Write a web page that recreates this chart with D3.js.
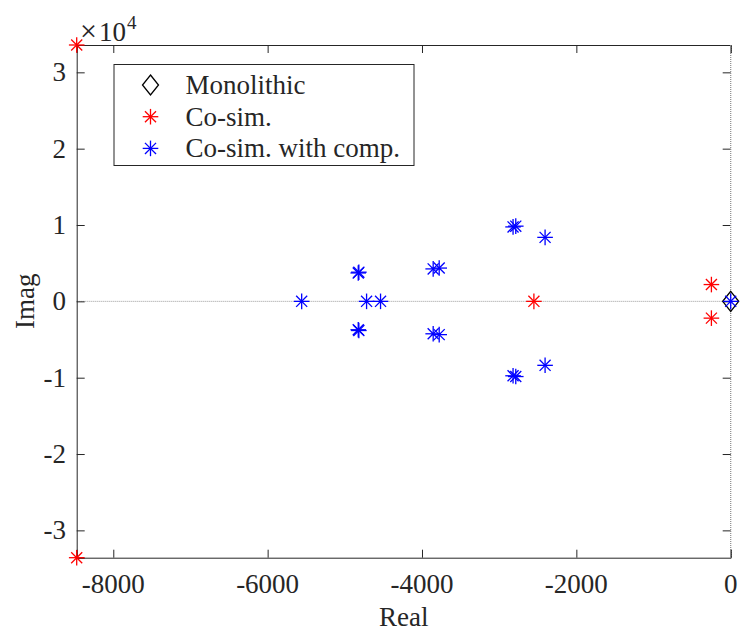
<!DOCTYPE html>
<html>
<head>
<meta charset="utf-8">
<script src="https://cdn.jsdelivr.net/npm/d3@7"></script>
<style>
  body { margin: 0; background: #fff; }
  svg text { font-family: "Liberation Serif", "Times New Roman", serif; fill: #262626; }
</style>
</head>
<body>
<svg id="chart"></svg>
<script>
    // pole locations (real, imag)
    const monolithic = [[0, 0]];
    const cosim = [[-8474, 33580], [-8474, -33580], [-2550, 0], [-250, 2200], [-250, -2200]];
    const cosimComp = [
        [-5559, 0], [-4718, 0], [-4537, 0], [0, 0],
        [-4826, 3720], [-4826, -3720], [-4818, 3820], [-4818, -3820],
        [-3855, 4250], [-3855, -4250], [-3777, 4360], [-3777, -4360],
        [-2820, 9750], [-2820, -9750], [-2785, 9850], [-2785, -9850],
        [-2405, 8380], [-2405, -8380]
    ];
    const xTicks = [-8000, -6000, -4000, -2000, 0];
    const yTicks = [-30000, -20000, -10000, 0, 10000, 20000, 30000];
    const legendNames = ["Monolithic", "Co-sim.", "Co-sim. with comp."];

    const width = 740, height = 631;
    const pLeft = 76.7, pRight = 730.7, pTop = 45, pBottom = 557.7;
    const axisColor = "#262626";

    const svg = d3.select("#chart").attr("width", width).attr("height", height);

    const x = d3.scaleLinear().domain([-8474, 0]).range([pLeft, pRight]);
    const y = d3.scaleLinear().domain([-33580, 33580]).range([pBottom, pTop]);

    // zero line (dotted grey)
    svg.append("line")
        .attr("x1", pLeft).attr("x2", pRight)
        .attr("y1", y(0)).attr("y2", y(0))
        .attr("stroke", "#9a9a9a").attr("stroke-width", 1)
        .attr("stroke-dasharray", "1,1");

    // axes box
    const tickLen = 8;
    const xAxisB = d3.axisBottom(x).tickValues(xTicks).tickSize(-tickLen).tickFormat("");
    const xAxisT = d3.axisTop(x).tickValues(xTicks).tickSize(-tickLen).tickFormat("");
    const yAxisL = d3.axisLeft(y).tickValues(yTicks).tickSize(-tickLen).tickFormat("");
    const yAxisR = d3.axisRight(y).tickValues(yTicks).tickSize(-tickLen).tickFormat("");

    function styleAxis(g) {
        g.selectAll("path").attr("stroke", axisColor).attr("stroke-width", 1);
        g.selectAll("line").attr("stroke", axisColor).attr("stroke-width", 1);
    }

    svg.append("g").attr("transform", `translate(0,${pBottom})`).call(xAxisB).call(styleAxis);
    svg.append("g").attr("transform", `translate(0,${pTop})`).call(xAxisT).call(styleAxis);
    svg.append("g").attr("transform", `translate(${pLeft},0)`).call(yAxisL).call(styleAxis);
    const rAxis = svg.append("g").attr("transform", `translate(${pRight},0)`).call(yAxisR).call(styleAxis);
    rAxis.select("path").attr("stroke-opacity", 0);

    // vertical zero line on the right edge
    svg.append("line")
        .attr("x1", x(0)).attr("x2", x(0))
        .attr("y1", pTop).attr("y2", pBottom)
        .attr("stroke", "#8a8a8a").attr("stroke-width", 1.2)
        .attr("stroke-dasharray", "1,1");

    // tick labels
    svg.selectAll(".xlab").data(xTicks).enter().append("text")
        .attr("x", d => x(d)).attr("y", 593)
        .attr("text-anchor", "middle").attr("font-size", 27)
        .text(d => d);

    svg.selectAll(".ylab").data(yTicks).enter().append("text")
        .attr("x", 66).attr("y", d => y(d) + 9)
        .attr("text-anchor", "end").attr("font-size", 27)
        .text(d => d / 10000);

    // exponent label
    svg.append("text").attr("x", 80).attr("y", 41).attr("font-size", 30).text("\u00d7");
    svg.append("text").attr("x", 99).attr("y", 41).attr("font-size", 27).text("10");
    svg.append("text").attr("x", 127).attr("y", 29).attr("font-size", 19).text("4");

    // axis titles
    svg.append("text").attr("x", (pLeft + pRight) / 2).attr("y", 626)
        .attr("text-anchor", "middle").attr("font-size", 27).text("Real");
    svg.append("text").attr("transform", `translate(33.5,${(pTop + pBottom) / 2}) rotate(-90)`)
        .attr("text-anchor", "middle").attr("font-size", 27).text("Imag");

    // markers
    function star(g, r, color) {
        const d = r * Math.SQRT1_2;
        g.append("line").attr("x1", -r).attr("x2", r).attr("y1", 0).attr("y2", 0);
        g.append("line").attr("x1", 0).attr("x2", 0).attr("y1", -r).attr("y2", r);
        g.append("line").attr("x1", -d).attr("x2", d).attr("y1", -d).attr("y2", d);
        g.append("line").attr("x1", -d).attr("x2", d).attr("y1", d).attr("y2", -d);
        g.attr("stroke", color).attr("stroke-width", 1.3);
    }
    function diamond(g) {
        g.append("path").attr("d", "M0,-10L8,0L0,10L-8,0Z")
            .attr("fill", "none").attr("stroke", "#000").attr("stroke-width", 1.3);
    }

    const pts = svg.append("g");
    pts.selectAll(".mono").data(monolithic).enter().append("g")
        .attr("transform", d => `translate(${x(d[0])},${y(d[1])})`)
        .each(function() { diamond(d3.select(this)); });
    pts.selectAll(".cs").data(cosim).enter().append("g")
        .attr("transform", d => `translate(${x(d[0])},${y(d[1])})`)
        .each(function() { star(d3.select(this), 7.8, "#ff0000"); });
    pts.selectAll(".csc").data(cosimComp).enter().append("g")
        .attr("transform", d => `translate(${x(d[0])},${y(d[1])})`)
        .each(function() { star(d3.select(this), 7.8, "#0000ff"); });

    // legend
    const lg = svg.append("g");
    lg.append("rect").attr("x", 114).attr("y", 64.5).attr("width", 300).attr("height", 101)
        .attr("fill", "#fff").attr("stroke", axisColor).attr("stroke-width", 1);
    const rows = lg.selectAll(".row").data(legendNames).enter().append("g")
        .attr("transform", (d, i) => `translate(150.5,${85 + i * 31.7})`);
    rows.each(function(d, i) {
        const g = d3.select(this).append("g");
        if (i === 0) diamond(g);
        else star(g, 7.8, i === 1 ? "#ff0000" : "#0000ff");
    });
    rows.append("text").attr("x", 35).attr("y", 9).attr("font-size", 27).text(d => d);
</script>
</body>
</html>
